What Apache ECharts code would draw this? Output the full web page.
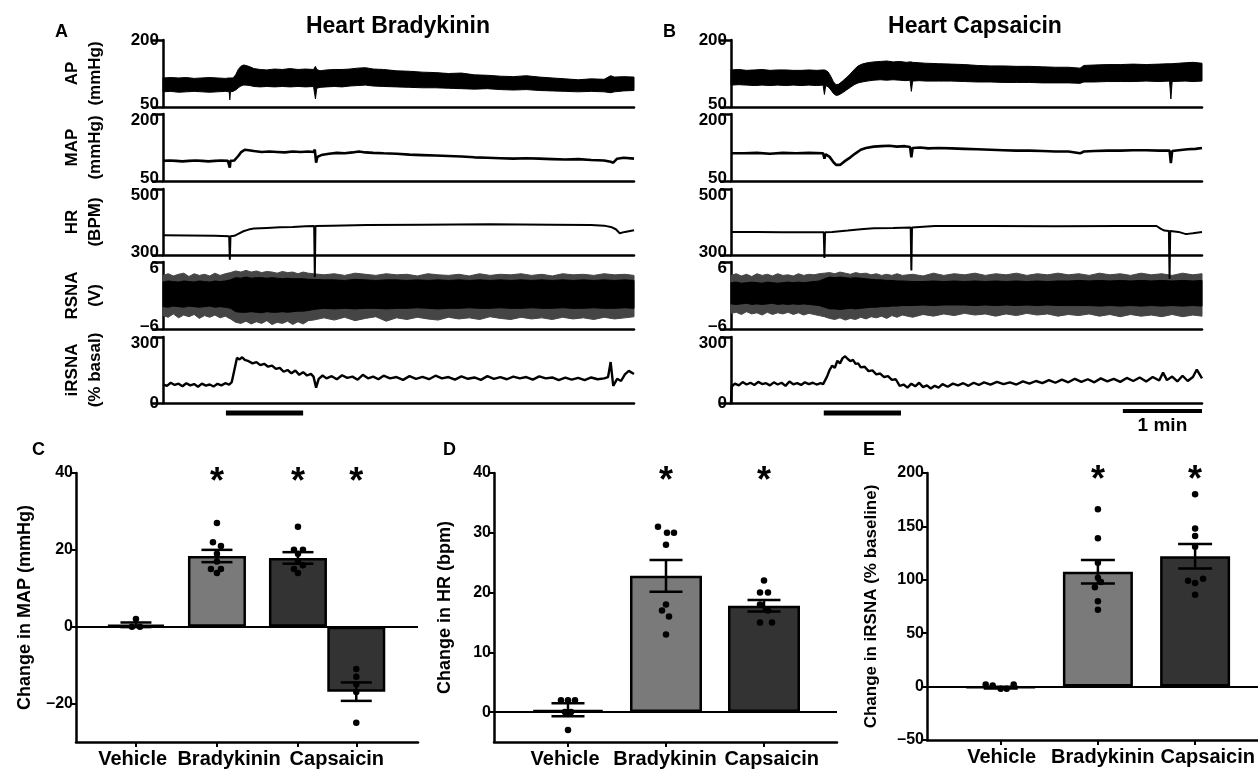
<!DOCTYPE html>
<html>
<head>
<meta charset="utf-8">
<script src="https://cdn.jsdelivr.net/npm/echarts@6/dist/echarts.min.js"></script>
<style>
  html, body { margin: 0; padding: 0; background: #fff; }
  #main { width: 1258px; height: 770px; }
</style>
</head>
<body>
<div id="main"></div>
<script>
// ---------- recordings (time in s, values in axis units) ----------
// AP band: [t, low, high]
var bkAP = [[0,84,115],[6,85,116],[12,83,115],[18,84,116],[24,85,114],[30,84,115],[36,83,116],[42,84,115],[48,85,114],[51,84,115],[51.5,66,115],[52,84,115],[54,85,115],[56,88,122],[58,93,134],[60,97,141],[62,99,144],[64,99,143],[67,98,140],[70,96,136],[75,95,134],[80,96,133],[86,95,135],[92,96,134],[98,95,136],[104,96,134],[110,95,135],[116,96,134],[117.5,68,141],[118.5,92,134],[121,94,131],[126,95,133],[132,96,134],[138,95,134],[144,97,135],[150,98,137],[156,99,138],[162,97,135],[170,96,134],[180,95,131],[190,94,130],[200,93,128],[210,93,127],[220,92,125],[230,91,126],[240,90,122],[250,91,121],[260,89,119],[270,88,118],[280,89,120],[290,87,117],[300,86,115],[310,85,113],[320,84,111],[330,85,113],[340,84,112],[345,82,120],[348,84,117],[355,86,118],[363,87,117]];
var bkMAP = [[0,95],[5,96],[10,95],[15,94],[20,95],[25,96],[30,95],[35,94],[40,95],[45,96],[50,95],[51,93],[51.5,80],[52,95],[55,96],[58,106],[60,114],[63,120],[66,119],[70,117],[76,115],[82,116],[88,115],[94,114],[100,116],[106,115],[112,116],[116,115],[117,120],[118,91],[119,104],[122,108],[128,111],[134,113],[140,112],[146,114],[151,116],[156,114],[162,113],[170,112],[180,111],[190,109],[200,108],[210,107],[220,106],[230,105],[240,103],[250,102],[260,101],[270,100],[280,101],[290,100],[300,99],[310,98],[320,99],[330,97],[340,96],[345,93],[347,91],[350,100],[355,102],[363,100]];
var bkHR = [[0,360],[20,359],[40,358],[51,357],[51.5,286],[52,357],[55,358],[58,364],[62,372],[66,377],[70,380],[80,382],[90,384],[100,385],[110,387],[116.5,388],[117,233],[117.5,388],[130,389],[157,391],[200,392],[252,393],[300,392],[330,391],[340,389],[346,384],[349,378],[352,366],[356,370],[363,375]];
// RSNA band: [t, outerLow, coreLow, coreHigh, outerHigh]
var bkRSNA = [[0,-3.6,-2.0,2.4,3.6],[4,-3.9,-2.1,2.6,3.9],[8,-3.3,-1.9,2.5,3.5],[12,-4.0,-2.0,2.4,3.8],[16,-3.5,-2.1,2.6,4.0],[20,-3.8,-1.9,2.5,3.4],[24,-3.4,-2.0,2.4,3.9],[28,-4.1,-2.1,2.6,3.6],[32,-3.6,-2.0,2.5,3.8],[36,-3.9,-1.9,2.4,3.5],[40,-3.5,-2.1,2.6,4.0],[44,-4.0,-2.0,2.5,3.6],[48,-3.7,-2.1,2.6,3.9],[52,-4.2,-2.3,2.8,4.1],[56,-4.8,-2.9,3.2,4.4],[60,-5.0,-3.0,3.1,4.2],[64,-4.6,-3.0,3.3,4.5],[68,-5.1,-2.9,3.1,4.2],[72,-4.7,-3.0,3.2,4.4],[76,-5.0,-3.1,3.2,4.1],[80,-4.5,-2.9,3.1,4.3],[84,-5.2,-3.0,3.2,4.2],[88,-4.8,-3.0,3.1,4.0],[92,-5.0,-2.9,3.0,4.3],[96,-4.6,-3.0,3.1,4.1],[100,-5.2,-2.9,3.0,4.2],[104,-4.7,-2.8,3.0,3.9],[108,-5.1,-2.8,3.0,4.2],[112,-4.5,-2.7,2.9,4.0],[116,-4.4,-2.5,2.9,3.9],[124,-4.0,-2.3,2.8,3.7],[132,-4.4,-2.4,2.8,3.9],[140,-3.9,-2.3,2.7,3.6],[148,-4.5,-2.4,2.9,4.0],[156,-4.1,-2.3,2.8,3.8],[164,-3.8,-2.3,2.7,3.6],[172,-4.6,-2.4,2.8,3.9],[180,-4.0,-2.3,2.8,3.7],[188,-4.3,-2.3,2.7,3.8],[196,-3.9,-2.2,2.8,3.5],[204,-4.2,-2.3,2.7,3.9],[212,-4.4,-2.4,2.8,3.7],[220,-3.9,-2.3,2.7,3.6],[228,-4.2,-2.3,2.8,3.8],[236,-4.0,-2.2,2.7,3.5],[244,-4.3,-2.3,2.8,3.9],[252,-3.8,-2.3,2.7,3.6],[260,-4.1,-2.2,2.8,3.8],[268,-4.3,-2.3,2.7,3.7],[276,-3.9,-2.3,2.8,3.9],[284,-4.2,-2.2,2.7,3.6],[292,-4.0,-2.3,2.8,3.8],[300,-4.3,-2.3,2.7,3.5],[308,-3.9,-2.2,2.8,3.9],[316,-4.2,-2.3,2.7,3.7],[324,-4.0,-2.3,2.8,3.8],[332,-4.3,-2.2,2.7,3.6],[340,-3.9,-2.3,2.8,3.9],[348,-4.2,-2.3,2.7,3.7],[356,-4.0,-2.2,2.8,3.8],[363,-3.8,-2.3,2.7,3.6]];
var bkIRSNA = [[0,85],[3,78],[6,92],[9,82],[12,88],[15,76],[18,90],[21,80],[24,86],[27,74],[30,88],[33,79],[36,84],[39,75],[42,87],[45,80],[48,90],[51,84],[53,95],[55,150],[57,205],[59,198],[61,208],[63,196],[66,190],[69,180],[72,186],[75,172],[78,178],[81,165],[84,170],[87,155],[90,160],[93,142],[96,150],[99,135],[102,148],[105,128],[108,140],[111,125],[114,132],[116,120],[118,70],[120,110],[123,125],[126,112],[130,122],[134,108],[138,126],[142,114],[146,120],[150,106],[154,128],[158,112],[162,120],[166,108],[170,124],[175,112],[180,118],[185,105],[190,122],[195,110],[200,119],[205,108],[210,124],[215,112],[220,118],[225,106],[230,121],[235,110],[240,116],[245,105],[250,122],[255,110],[260,118],[265,108],[270,120],[275,112],[280,118],[285,106],[290,121],[295,112],[300,116],[305,104],[310,115],[315,106],[320,114],[325,104],[330,116],[335,108],[340,112],[343,118],[345,186],[347,78],[350,110],[353,100],[356,130],[359,146],[363,132]];

var cpAP = [[0,99,133],[6,100,134],[12,99,132],[18,98,133],[24,99,134],[30,98,132],[36,99,133],[42,98,133],[48,99,132],[54,98,132],[60,99,133],[66,98,132],[71,99,133],[72,78,133],[73,98,132],[75,95,128],[77,88,118],[79,80,106],[81,76,100],[83,77,101],[86,82,108],[89,88,116],[92,94,124],[95,100,134],[98,104,142],[101,106,146],[105,108,149],[110,110,151],[115,111,152],[120,110,153],[125,111,151],[130,110,152],[135,109,150],[138,110,151],[139,85,151],[140,108,150],[145,109,149],[150,108,148],[160,108,147],[170,108,146],[180,107,145],[190,106,143],[200,106,142],[210,105,142],[220,105,141],[230,105,141],[240,104,140],[250,104,139],[260,104,139],[269,103,137],[272,106,143],[280,106,144],[290,107,145],[300,107,145],[310,107,146],[320,108,145],[330,107,146],[338,108,147],[339,68,147],[340,107,147],[350,108,149],[356,107,150],[363,108,148]];
var cpMAP = [[0,112],[10,112],[20,113],[30,111],[40,113],[50,112],[60,113],[71,112],[72,100],[73,110],[76,104],[79,92],[81,86],[84,86],[88,95],[92,103],[96,112],[100,120],[104,124],[110,127],[116,128],[122,129],[128,127],[134,128],[138,126],[139,103],[140,124],[146,125],[152,123],[160,124],[170,123],[180,122],[190,121],[200,120],[210,119],[220,118],[230,118],[240,117],[250,116],[260,116],[269,112],[272,116],[280,117],[290,118],[300,118],[310,119],[320,119],[330,118],[338,118],[339,90],[340,117],[345,119],[352,121],[358,122],[363,124]];
var cpHR = [[0,370],[20,370],[40,369],[60,369],[71.5,369],[72,291],[72.5,369],[78,370],[90,374],[100,378],[110,381],[125,382],[138.5,383],[139,253],[139.5,383],[157,388],[200,388],[250,387],[300,388],[328,388],[331,380],[334,374],[337.5,373],[338,228],[338.5,373],[345,370],[350,364],[351,360],[352,364],[356,366],[363,370]];
var cpRSNA = [[0,-3.2,-1.5,2.3,3.6],[4,-3.0,-1.6,2.4,3.9],[8,-3.4,-1.5,2.2,3.5],[12,-2.9,-1.4,2.3,3.8],[16,-3.3,-1.6,2.4,3.4],[20,-3.1,-1.5,2.3,3.9],[24,-3.5,-1.6,2.2,3.6],[28,-3.0,-1.5,2.4,3.8],[32,-3.4,-1.4,2.3,3.5],[36,-3.1,-1.6,2.2,3.9],[40,-3.3,-1.5,2.3,3.6],[44,-3.0,-1.6,2.4,3.7],[48,-3.4,-1.5,2.3,3.5],[52,-3.1,-1.6,2.4,3.9],[56,-3.5,-1.5,2.3,3.6],[60,-3.2,-1.6,2.4,3.8],[64,-3.4,-1.7,2.5,3.7],[68,-3.6,-1.8,2.6,3.9],[72,-3.8,-2.1,3.0,4.0],[76,-4.1,-2.4,3.3,4.1],[80,-4.3,-2.4,3.2,3.9],[84,-4.0,-2.5,3.3,4.2],[88,-4.4,-2.4,3.2,4.0],[92,-4.1,-2.3,3.1,3.8],[96,-4.3,-2.4,3.2,4.1],[100,-3.9,-2.3,3.1,3.9],[104,-4.2,-2.2,3.0,4.0],[108,-3.8,-2.1,2.9,3.7],[112,-4.0,-2.1,2.8,3.9],[116,-3.7,-2.0,2.8,3.6],[120,-4.1,-2.0,2.7,3.8],[124,-3.6,-1.9,2.7,3.6],[128,-3.9,-1.9,2.6,3.9],[132,-3.5,-1.8,2.6,3.6],[140,-3.9,-1.8,2.5,3.8],[148,-3.4,-1.7,2.5,3.5],[156,-3.7,-1.8,2.6,4.0],[164,-3.3,-1.7,2.5,3.6],[172,-3.6,-1.7,2.6,3.9],[180,-3.2,-1.7,2.5,3.7],[188,-3.5,-1.8,2.6,4.0],[196,-3.3,-1.7,2.5,3.6],[204,-3.7,-1.8,2.6,3.9],[212,-3.3,-1.7,2.5,3.7],[220,-3.6,-1.8,2.6,4.0],[228,-3.2,-1.7,2.5,3.6],[236,-3.5,-1.8,2.6,3.9],[244,-3.3,-1.7,2.5,3.7],[252,-3.7,-1.8,2.6,4.0],[260,-3.4,-1.8,2.6,3.7],[268,-3.6,-1.8,2.7,3.9],[276,-3.3,-1.8,2.6,3.6],[284,-3.7,-1.9,2.7,4.0],[292,-3.4,-1.8,2.6,3.7],[300,-3.8,-1.9,2.7,3.9],[308,-3.4,-1.8,2.6,3.6],[316,-3.7,-1.9,2.7,4.0],[324,-3.5,-1.8,2.6,3.7],[332,-3.8,-1.9,2.7,3.9],[340,-3.4,-1.8,2.6,3.6],[348,-3.8,-1.9,2.7,4.0],[356,-3.5,-1.8,2.6,3.7],[363,-3.7,-1.9,2.7,3.9]];
var cpIRSNA = [[0,0],[0.5,75],[3,88],[6,80],[9,95],[12,84],[15,92],[18,82],[21,96],[24,86],[27,90],[30,80],[33,94],[36,84],[39,92],[42,78],[45,98],[48,85],[51,90],[54,82],[57,94],[60,86],[63,92],[66,84],[69,90],[71,86],[74,120],[76,150],[78,170],[80,160],[82,192],[84,180],[86,204],[88,212],[90,200],[92,190],[94,196],[96,178],[98,180],[100,162],[103,165],[106,145],[109,148],[112,130],[115,134],[118,118],[121,122],[124,105],[127,108],[130,78],[133,84],[136,70],[139,88],[142,76],[145,92],[148,72],[151,80],[154,66],[157,78],[160,70],[163,86],[167,74],[171,88],[175,80],[179,90],[183,78],[187,92],[191,82],[195,94],[200,84],[205,96],[210,86],[215,94],[220,84],[225,98],[230,88],[235,100],[240,90],[245,104],[250,92],[255,106],[260,94],[265,110],[270,96],[275,108],[280,94],[285,112],[290,98],[295,110],[300,96],[305,114],[310,100],[315,116],[320,98],[325,118],[330,102],[333,138],[336,104],[340,120],[344,98],[348,124],[352,100],[356,118],[359,152],[363,112]];

var stimA = [48.5, 108];
var stimB = [71.5, 131];
var scaleBar = [302, 363];

var traceTicks = [[50, 200], [50, 200], [300, 500], [-6, 6], [0, 300]];
var traceNames = [['AP', '(mmHg)'], ['MAP', '(mmHg)'], ['HR', '(BPM)'], ['RSNA', '(V)'], ['iRSNA', '(% basal)']];

// ---------- group summaries ----------
var groups = ['Vehicle', 'Bradykinin', 'Capsaicin'];

var mapMean = [0.5, 18.4, 17.9, -16.9];
var mapSem = [0.6, 1.6, 1.5, 2.4];
var mapDots = [[2, 0, 0], [27, 22, 21, 19, 17, 15, 15, 14], [26, 20, 20, 19, 17, 16, 15, 14], [-11, -13, -15, -17, -25]];
var mapStar = [false, true, true, true];

var hrMean = [0.4, 22.8, 17.8];
var hrSem = [1.1, 2.65, 0.95];
var hrDots = [[2, 2, 2, -3, 0, 0], [31, 30, 30, 28, 18, 17, 16, 13], [22, 20, 20, 18, 17, 15, 15]];
var hrStar = [false, true, true];

var irMean = [-1, 107.5, 122];
var irSem = [0.8, 11, 11.5];
var irDots = [[2, 1, -2, -2, 2], [166, 139, 116, 102, 98, 93, 80, 72], [180, 148, 141, 131, 99, 97, 101, 86]];
var irStar = [false, true, true];

// ---------- layout / style ----------
var FONT = '"Liberation Sans", Arial, sans-serif';
var BLACK = '#000';
var barColors = { C: ['#2e2e2e', '#7a7a7a', '#333333', '#333333'], D: ['#2e2e2e', '#7a7a7a', '#333333'], E: ['#2e2e2e', '#7a7a7a', '#333333'] };
var jitC = [[0, -4, 4], [0, -4, 4, 0, 0, -6, 4, 0], [0, -4, 5, 0, 0, 5, -4, 0], [0, 0, 0, 0, 0]];
var jitD = [[-7, 0, 7, 0, -3, 3], [-8, 1, 8, 0, 0, -4, 3, 0], [0, -4, 4, -4, 4, -4, 8]];
var jitE = [[-15, -8, 0, 6, 13], [0, 0, 0, 0, 3, -3, 0, 0], [0, 0, 0, 0, -7, 0, 8, 0]];

var grids = [], xAxes = [], yAxes = [], series = [];

function dash(v) { return String(v).replace('-', '\u2013'); }

var labelFont = { color: BLACK, fontFamily: FONT, fontWeight: 'bold', fontSize: 17 };

function addTraceGrid(left, top, bottom, row, withName) {
  var gi = grids.length;
  var ticks = traceTicks[row];
  grids.push({ left: left, width: 471, top: top, height: bottom - top });
  xAxes.push({
    gridIndex: gi, type: 'value', min: 0, max: 363,
    axisLine: { onZero: false, lineStyle: { color: BLACK, width: 2.5 } },
    axisTick: { show: false }, axisLabel: { show: false }, splitLine: { show: false }
  });
  var y = {
    gridIndex: gi, type: 'value', min: ticks[0], max: ticks[1],
    axisLine: { show: true, onZero: false, lineStyle: { color: BLACK, width: 2.5 } },
    axisTick: { show: true, customValues: ticks, length: 11, lineStyle: { color: BLACK, width: 2.5 } },
    axisLabel: {
      customValues: ticks, margin: 4, color: BLACK, fontFamily: FONT, fontWeight: 'bold', fontSize: 17,
      formatter: function (v) {
        // stacked panels: nudge the top label down and the bottom label up so they don't collide
        if (v === ticks[1] && row > 0) return '{hi|' + dash(v) + '}';
        if (v === ticks[0] && row < 4) return '{lo|' + dash(v) + '}';
        return dash(v);
      },
      rich: {
        hi: Object.assign({ padding: [12, 0, 0, 0] }, labelFont),
        lo: Object.assign({ padding: [0, 0, 6, 0] }, labelFont)
      }
    },
    splitLine: { show: false }
  };
  if (withName) {
    y.name = traceNames[row][0] + '\n' + traceNames[row][1];
    y.nameLocation = 'middle';
    y.nameGap = 56;
    y.nameTextStyle = { color: BLACK, fontFamily: FONT, fontWeight: 'bold', fontSize: 17, lineHeight: 23 };
  }
  yAxes.push(y);
  return gi;
}

function bandSeries(gi, rows, lo, hi, color) {
  return {
    type: 'custom', xAxisIndex: gi, yAxisIndex: gi, silent: true, clip: false, z: 3,
    data: [[rows[0][0], rows[0][lo]]],
    renderItem: function (params, api) {
      var pts = [];
      for (var i = 0; i < rows.length; i++) pts.push(api.coord([rows[i][0], rows[i][hi]]));
      for (var j = rows.length - 1; j >= 0; j--) pts.push(api.coord([rows[j][0], rows[j][lo]]));
      return { type: 'polygon', shape: { points: pts }, style: { fill: color, stroke: color, lineWidth: 1 } };
    }
  };
}

function lineSeries(gi, data, width) {
  return {
    type: 'line', xAxisIndex: gi, yAxisIndex: gi, data: data, symbol: 'none', clip: false, z: 4,
    lineStyle: { color: BLACK, width: width }, silent: true
  };
}

function textSeries(gi, data, size) {
  // data items: [x, y, text]
  return {
    type: 'custom', xAxisIndex: gi, yAxisIndex: gi, data: data, silent: true, clip: false, z: 7,
    renderItem: function (params, api) {
      var p = api.coord([api.value(0), api.value(1)]);
      return { type: 'text', x: p[0], y: p[1],
        style: { text: data[params.dataIndex][2], fill: BLACK, font: 'bold ' + size + 'px ' + FONT, textAlign: 'center', textVerticalAlign: 'middle' } };
    }
  };
}

function tracePanel(left, named, ap, map, hr, rsna, irsna, stim) {
  var tops = [40, 114, 189, 262, 337], bots = [107, 181, 255, 329, 403];
  var g = [];
  for (var r = 0; r < 5; r++) g.push(addTraceGrid(left, tops[r], bots[r], r, named));
  series.push(bandSeries(g[0], ap, 1, 2, '#000'));
  series.push(lineSeries(g[1], map, 2.6));
  series.push(lineSeries(g[2], hr, 2));
  series.push(bandSeries(g[3], rsna, 1, 4, '#454545'));
  series.push(bandSeries(g[3], rsna, 2, 3, '#000'));
  series.push(lineSeries(g[4], irsna, 2.4));
  series.push({
    type: 'line', xAxisIndex: g[4], yAxisIndex: g[4], symbol: 'none', clip: false, silent: true,
    data: [[stim[0], -45], [stim[1], -45]], lineStyle: { color: BLACK, width: 5 }
  });
  return g;
}

tracePanel(163, true, bkAP, bkMAP, bkHR, bkRSNA, bkIRSNA, stimA);
var gB = tracePanel(731, false, cpAP, cpMAP, cpHR, cpRSNA, cpIRSNA, stimB);
series.push({
  type: 'line', xAxisIndex: gB[4], yAxisIndex: gB[4], symbol: 'none', clip: false, silent: true,
  lineStyle: { color: BLACK, width: 4 },
  data: [[scaleBar[0], -36], [scaleBar[1], -36]]
});
series.push(textSeries(gB[4], [[(scaleBar[0] + scaleBar[1]) / 2, -104, '1 min']], 19));

// ---------- bar panels ----------
function barPanel(cfg) {
  var gi = grids.length;
  grids.push({ left: cfg.left, top: 473, width: cfg.width, height: cfg.height });
  xAxes.push({
    gridIndex: gi, type: 'value', min: cfg.xMin, max: cfg.xMax,
    axisLine: { onZero: false, lineStyle: { color: BLACK, width: 2.5 } },
    axisTick: { customValues: cfg.pos, length: 5, lineStyle: { color: BLACK, width: 2 } },
    axisLabel: {
      customValues: cfg.labelPos, margin: 7, color: BLACK, fontFamily: FONT, fontWeight: 'bold', fontSize: 20,
      formatter: function (v) { return groups[cfg.labelPos.indexOf(v)]; }
    },
    splitLine: { show: false }
  });
  yAxes.push({
    gridIndex: gi, type: 'value', min: cfg.yMin, max: cfg.yMax,
    name: cfg.name, nameLocation: 'middle', nameGap: cfg.nameGap,
    nameTextStyle: { color: BLACK, fontFamily: FONT, fontWeight: 'bold', fontSize: cfg.nameSize },
    axisLine: { show: true, onZero: false, lineStyle: { color: BLACK, width: 2.5 } },
    axisTick: { show: true, customValues: cfg.ticks, length: 6, lineStyle: { color: BLACK, width: 2 } },
    axisLabel: { customValues: cfg.ticks, margin: 3, color: BLACK, fontFamily: FONT, fontWeight: 'bold', fontSize: 16, formatter: dash },
    splitLine: { show: false }
  });
  var bars = [], errs = [], dots = [], stars = [];
  for (var i = 0; i < cfg.mean.length; i++) {
    bars.push({ value: [cfg.pos[i], cfg.mean[i]], itemStyle: { color: cfg.colors[i] } });
    errs.push([cfg.pos[i], cfg.mean[i], cfg.sem[i]]);
    for (var k = 0; k < cfg.dots[i].length; k++) {
      dots.push({ value: [cfg.pos[i], cfg.dots[i][k]], symbolOffset: [cfg.jit[i][k], 0] });
    }
    if (cfg.star[i]) stars.push([cfg.pos[i], cfg.starY, '*']);
  }
  series.push({
    type: 'bar', xAxisIndex: gi, yAxisIndex: gi, data: bars, barWidth: cfg.barWidth, silent: true,
    itemStyle: { borderColor: BLACK, borderWidth: 2.5 },
    markLine: {
      silent: true, symbol: 'none', label: { show: false },
      lineStyle: { color: BLACK, width: 2, type: 'solid' }, data: [{ yAxis: 0 }]
    }
  });
  series.push({
    type: 'custom', xAxisIndex: gi, yAxisIndex: gi, data: errs, silent: true, z: 5,
    renderItem: function (params, api) {
      var x = api.value(0), m = api.value(1), s = api.value(2);
      var top = api.coord([x, m + s]), bot = api.coord([x, m - s]);
      var hw = cfg.cap / 2, st = { stroke: BLACK, lineWidth: 2.5 };
      return { type: 'group', children: [
        { type: 'line', shape: { x1: top[0], y1: top[1], x2: bot[0], y2: bot[1] }, style: st },
        { type: 'line', shape: { x1: top[0] - hw, y1: top[1], x2: top[0] + hw, y2: top[1] }, style: st },
        { type: 'line', shape: { x1: bot[0] - hw, y1: bot[1], x2: bot[0] + hw, y2: bot[1] }, style: st }
      ] };
    }
  });
  series.push({
    type: 'scatter', xAxisIndex: gi, yAxisIndex: gi, data: dots, symbolSize: 6.5, silent: true, z: 6,
    itemStyle: { color: BLACK, opacity: 1 }
  });
  series.push(textSeries(gi, stars, 36));
}

barPanel({
  left: 76, width: 342, height: 269, xMin: 0.26, xMax: 4.482, yMin: -30, yMax: 40,
  pos: [1, 2, 3, 3.72], labelPos: [0.96, 2.15, 3.48], ticks: [-20, 0, 20, 40],
  mean: mapMean, sem: mapSem, dots: mapDots, jit: jitC, star: mapStar, starY: 37.5,
  colors: barColors.C, barWidth: 58, cap: 31,
  name: 'Change in MAP (mmHg)', nameGap: 42, nameSize: 18
});
barPanel({
  left: 494, width: 343, height: 269, xMin: 0.245, xMax: 3.745, yMin: -5, yMax: 40,
  pos: [1, 2, 3], labelPos: [0.97, 1.99, 3.08], ticks: [0, 10, 20, 30, 40],
  mean: hrMean, sem: hrSem, dots: hrDots, jit: jitD, star: hrStar, starY: 38.5,
  colors: barColors.D, barWidth: 72, cap: 33,
  name: 'Change in HR (bpm)', nameGap: 40, nameSize: 18
});
barPanel({
  left: 927, width: 331, height: 267, xMin: 0.242, xMax: 3.647, yMin: -50, yMax: 200,
  pos: [1, 2, 3], labelPos: [1.01, 2.05, 3.13], ticks: [-50, 0, 50, 100, 150, 200],
  mean: irMean, sem: irSem, dots: irDots, jit: jitE, star: irStar, starY: 192,
  colors: barColors.E, barWidth: 70, cap: 34,
  name: 'Change in iRSNA (% baseline)', nameGap: 47, nameSize: 17
});

function txt(x, y, s, size, align) {
  return { type: 'text', x: x, y: y, silent: true,
    style: { text: s, fill: BLACK, font: 'bold ' + size + 'px ' + FONT, textAlign: align || 'left', textVerticalAlign: 'middle' } };
}

var chart = echarts.init(document.getElementById('main'), null, { renderer: 'canvas' });
chart.setOption({
  animation: false,
  backgroundColor: '#fff',
  grid: grids,
  xAxis: xAxes,
  yAxis: yAxes,
  series: series,
  graphic: [
    txt(398, 27, 'Heart Bradykinin', 23, 'center'),
    txt(975, 27, 'Heart Capsaicin', 23, 'center'),
    txt(55, 32, 'A', 18), txt(663, 32, 'B', 18),
    txt(32, 450, 'C', 18), txt(443, 450, 'D', 18), txt(863, 450, 'E', 18)
  ]
});
</script>
</body>
</html>
